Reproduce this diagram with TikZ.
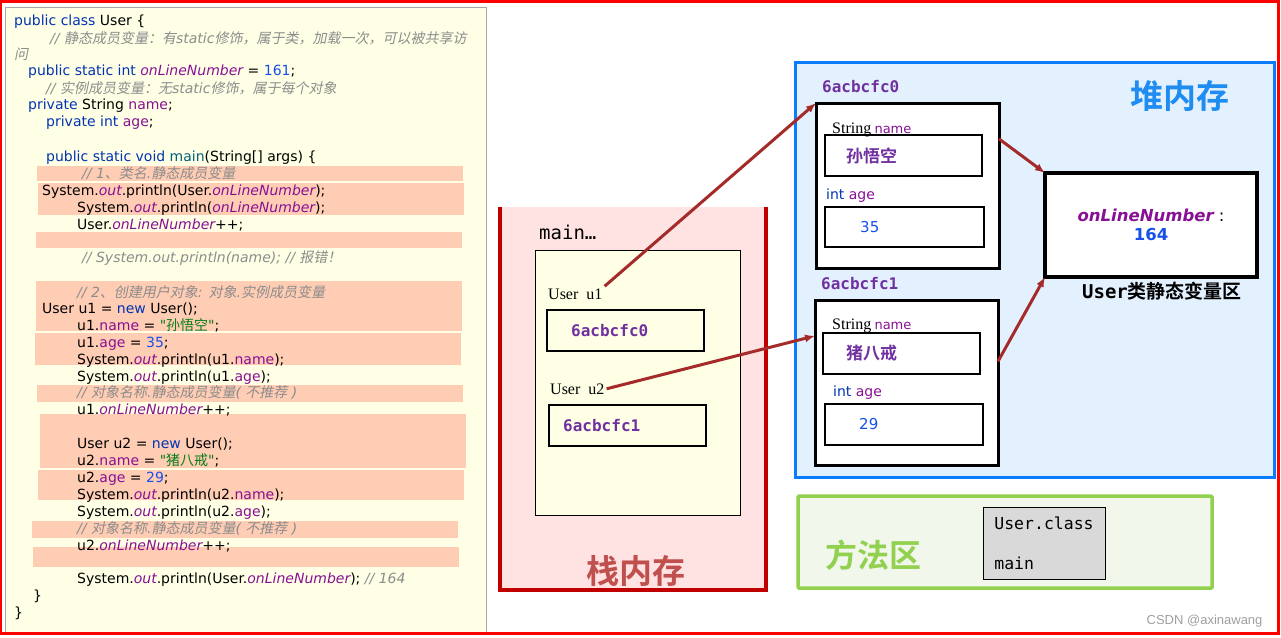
\documentclass[tikz,border=0pt]{standalone}
\usepackage{fontspec}
\setmainfont{DejaVu Sans}
\setmonofont{DejaVu Sans Mono}
\newfontfamily\codefont{DejaVu Sans}
\newfontfamily\cjkfont{Noto Sans CJK SC}[ItalicFont={Noto Sans CJK SC}, ItalicFeatures={FakeSlant=0.2}, BoldFont={Noto Sans CJK SC Bold}]
\newfontfamily\lblserif{Liberation Serif}
\newfontfamily\wmfont{Liberation Sans}
\usetikzlibrary{arrows.meta, positioning}

\definecolor{jkwblue}{HTML}{0033B3}
\definecolor{jfield}{HTML}{871094}
\definecolor{jnumber}{HTML}{1750EB}
\definecolor{jstring}{HTML}{067D17}
\definecolor{jcomment}{HTML}{8C8C8C}
\definecolor{jmethod}{HTML}{00627A}
\definecolor{codebg}{HTML}{FFFFE6}
\definecolor{hlband}{HTML}{FFCCB4}
\definecolor{stackbg}{HTML}{FFE3E3}
\definecolor{stackred}{HTML}{C00000}
\definecolor{stacktxt}{HTML}{C0504D}
\definecolor{heapbg}{HTML}{E3F1FF}
\definecolor{heapblue}{HTML}{0A7CFF}
\definecolor{heaptxt}{HTML}{1E8CF0}
\definecolor{addrpurple}{HTML}{7030A0}
\definecolor{refred}{HTML}{A52A2A}
\definecolor{methodbg}{HTML}{F2F7EC}
\definecolor{methodgreen}{HTML}{92D050}
\definecolor{classgray}{HTML}{D9D9D9}

\newcommand\zh[1]{{\cjkfont #1}}
\newcommand\jkw[1]{\textcolor{jkwblue}{#1}}
\newcommand\jfld[1]{\textcolor{jfield}{#1}}
\newcommand\jsf[1]{\textcolor{jfield}{\itshape #1}}
\newcommand\jnum[1]{\textcolor{jnumber}{#1}}
\newcommand\jstr[1]{\textcolor{jstring}{#1}}
\newcommand\jcmt[1]{\textcolor{jcomment}{\itshape #1}}
\newcommand\jmeth[1]{\textcolor{jmethod}{#1}}
\newcommand\typename[1]{{\lblserif\fontsize{16}{16}\selectfont #1}}

\begin{document}
\begin{tikzpicture}[x=1pt, y=-1pt,
	code/.style={anchor=base west, inner sep=0pt, font=\codefont\fontsize{14}{17}\selectfont},
	area/.style={anchor=north west, outer sep=0pt, inner sep=0pt},
	objbox/.style={draw, fill=white, line width=3pt, anchor=north west, outer sep=0pt,
		minimum width=183pt, minimum height=165pt},
	slot/.style={draw, line width=2pt, anchor=north west, outer sep=0pt,
		minimum width=157pt, minimum height=41pt},
	addr/.style={anchor=west, inner sep=0pt, text=addrpurple, font=\fontsize{16}{16}\ttfamily\bfseries},
	varlbl/.style={anchor=base west, inner sep=0pt},
	reflbl/.style={anchor=base west, inner sep=2pt, font=\lblserif\fontsize{16}{16}\selectfont},
	ref/.style={-{Latex[length=10pt,width=8pt]}, line width=3pt, draw=refred}
	]
	
	\useasboundingbox (0,0) rectangle (1281,637);
	
	% code panel
	\node (codepanel) [area, draw=gray!70, fill=codebg, minimum width=481pt, minimum height=625pt] at (5,7) {};
	\fill[hlband] (37,166) rectangle (463,181);
	\fill[hlband] (38,183) rectangle (464,215);
	\fill[hlband] (36,232) rectangle (462,248);
	\fill[hlband] (36,281) rectangle (462,331);
	\fill[hlband] (35,333) rectangle (461,365);
	\fill[hlband] (37,385) rectangle (463,402);
	\fill[hlband] (40,414) rectangle (466,468);
	\fill[hlband] (38,470) rectangle (464,500);
	\fill[hlband] (32,521) rectangle (458,538);
	\fill[hlband] (33,547) rectangle (459,567);
	
	\node (c1) [code] at (14,25) {\jkw{public class} User \{};
	\node (c2) [code] at (50,43) {\jcmt{// \zh{静态成员变量：有}static\zh{修饰，属于类，加载一次，可以被共享访}}};
	\node (c3) [code] at (14,59) {\jcmt{\zh{问}}};
	\node (c4) [code] at (28,75) {\jkw{public static int} \jsf{onLineNumber} = \jnum{161};};
	\node (c5) [code] at (46,93) {\jcmt{// \zh{实例成员变量：无}static\zh{修饰，属于每个对象}}};
	\node (c6) [code] at (28,109) {\jkw{private} String \jfld{name};};
	\node (c7) [code] at (46,126) {\jkw{private int} \jfld{age};};
	\node (c9) [code] at (46,161) {\jkw{public static void} \jmeth{main}(String[] args) \{};
	\node (c10) [code] at (82,178) {\jcmt{// 1\zh{、类名}.\zh{静态成员变量}}};
	\node (c11) [code] at (42,195) {System.\jsf{out}.println(User.\jsf{onLineNumber});};
	\node (c12) [code] at (77,212) {System.\jsf{out}.println(\jsf{onLineNumber});};
	\node (c13) [code] at (77,229) {User.\jsf{onLineNumber}++;};
	\node (c15) [code] at (82,262) {\jcmt{// System.out.println(name); // \zh{报错！}}};
	\node (c17) [code] at (77,297) {\jcmt{// 2\zh{、创建用户对象}: \zh{对象}.\zh{实例成员变量}}};
	\node (c18) [code] at (42,313) {User u1 = \jkw{new} User();};
	\node (c19) [code] at (77,330) {u1.\jfld{name} = \jstr{"\zh{孙悟空}"};};
	\node (c20) [code] at (77,347) {u1.\jfld{age} = \jnum{35};};
	\node (c21) [code] at (77,364) {System.\jsf{out}.println(u1.\jfld{name});};
	\node (c22) [code] at (77,381) {System.\jsf{out}.println(u1.\jfld{age});};
	\node (c23) [code] at (77,397) {\jcmt{// \zh{对象名称}.\zh{静态成员变量}( \zh{不推荐} )}};
	\node (c24) [code] at (77,414) {u1.\jsf{onLineNumber}++;};
	\node (c26) [code] at (77,448) {User u2 = \jkw{new} User();};
	\node (c27) [code] at (77,465) {u2.\jfld{name} = \jstr{"\zh{猪八戒}"};};
	\node (c28) [code] at (77,482) {u2.\jfld{age} = \jnum{29};};
	\node (c29) [code] at (77,499) {System.\jsf{out}.println(u2.\jfld{name});};
	\node (c30) [code] at (77,516) {System.\jsf{out}.println(u2.\jfld{age});};
	\node (c31) [code] at (77,533) {\jcmt{// \zh{对象名称}.\zh{静态成员变量}( \zh{不推荐} )}};
	\node (c32) [code] at (77,550) {u2.\jsf{onLineNumber}++;};
	\node (c34) [code] at (77,583) {System.\jsf{out}.println(User.\jsf{onLineNumber}); \jcmt{// 164}};
	\node (c35) [code] at (33,600) {\}};
	\node (c36) [code] at (14,617) {\}};
	
	% stack
	\node (stack) [area, fill=stackbg, minimum width=266pt, minimum height=383pt] at (500,207) {};
	\draw[stackred, line width=4pt] (stack.north west) -- (stack.south west) -- (stack.south east) -- (stack.north east);
	\node (mainlbl) [anchor=west, inner sep=0pt, font=\fontsize{19}{19}\ttfamily] at (539,232) {main…};
	\node (frame) [area, draw, fill=codebg, minimum width=205pt, minimum height=265pt] at (535,250) {};
	\node (u1) [reflbl] at (546,299) {User\hspace{8pt}u1};
	\node (u1ref) [slot] at (547,310) {};
	\node (u1val) [addr, right=24pt of u1ref.west] {6acbcfc0};
	\node (u2) [reflbl] at (548,394) {User\hspace{8pt}u2};
	\node (u2ref) [slot] at (549,405) {};
	\node (u2val) [addr, right=14pt of u2ref.west] {6acbcfc1};
	\node (stacktitle) [text=stacktxt, font=\cjkfont\fontsize{33}{33}\selectfont\bfseries] at (636,571) {栈内存};
	
	% heap
	\node (heap) [area, draw=heapblue, line width=3pt, fill=heapbg, minimum width=479pt, minimum height=415pt] at (795,62) {};
	\node (heaptitle) [text=heaptxt, font=\cjkfont\fontsize{33}{33}\selectfont\bfseries] at (1180,96) {堆内存};
	
	\node (addr0) [addr] at (822,87) {6acbcfc0};
	\node (obj0) [objbox] at (816,103) {};
	\node (nm0lbl) [varlbl] at (832,133) {\typename{String} \jfld{\fontsize{13}{13}\selectfont name}};
	\node (nm0) [slot] at (825,135) {};
	\node (nm0val) [inner sep=0pt, text=addrpurple, font=\cjkfont\fontsize{17}{17}\selectfont\bfseries, right=21pt of nm0.west] {孙悟空};
	\node (ag0lbl) [varlbl, font=\fontsize{14}{14}\selectfont] at (826,199) {\jkw{int} \jfld{age}};
	\node (ag0) [slot, minimum width=159pt, minimum height=40pt] at (825,207) {};
	\node (ag0val) [inner sep=0pt, text=jnumber, font=\fontsize{15}{15}\selectfont, right=35pt of ag0.west] {35};
	
	\node (addr1) [addr] at (821,284) {6acbcfc1};
	\node (obj1) [objbox] at (815,300) {};
	\node (nm1lbl) [varlbl] at (832,329) {\typename{String} \jfld{\fontsize{13}{13}\selectfont name}};
	\node (nm1) [slot] at (823,333) {};
	\node (nm1val) [inner sep=0pt, text=addrpurple, font=\cjkfont\fontsize{17}{17}\selectfont\bfseries, right=23pt of nm1.west] {猪八戒};
	\node (ag1lbl) [varlbl, font=\fontsize{14}{14}\selectfont] at (833,396) {\jkw{int} \jfld{age}};
	\node (ag1) [slot, minimum width=158pt] at (825,404) {};
	\node (ag1val) [inner sep=0pt, text=jnumber, font=\fontsize{15}{15}\selectfont, right=34pt of ag1.west] {29};
	
	\node (stat) [draw, line width=4pt, fill=white, anchor=north west, outer sep=0pt, minimum width=212pt, minimum height=104pt,
		align=center, font=\fontsize{16.5}{19}\selectfont] at (1045,173)
		{\textcolor{jfield}{\bfseries\itshape onLineNumber} :\\\textcolor{jnumber}{\bfseries 164}};
	\node (statlbl) [below=2pt of stat, xshift=11pt, font=\fontsize{19}{19}\selectfont\bfseries] {\texttt{User}\zh{类静态变量区}};
	
	\draw[ref] (u1.north east) -- (obj0.north west);
	\draw[ref] (u2.east) -- (obj1.153);
	\draw[ref] (obj0.27) -- (stat.north west);
	\draw[ref] (obj1.13) -- (stat.south west);
	
	% method area
	\node (method) [area, draw=methodgreen, line width=3.5pt, fill=methodbg, rounded corners=1pt, minimum width=414pt, minimum height=92pt] at (798,496) {};
	\node (methodtitle) [text=methodgreen, font=\cjkfont\fontsize{32}{32}\selectfont\bfseries] at (873,555) {方法区};
	\node (classbox) [draw, fill=classgray, anchor=north west, outer sep=0pt, minimum width=122pt, minimum height=72pt,
		align=left, font=\fontsize{16.5}{40}\ttfamily] at (983,507) {User.class\\main};
	
	\node (wm) [anchor=east, text=gray!75, font=\wmfont\fontsize{13}{13}\selectfont] at (1266,621) {CSDN @axinawang};
	
	\draw[red, line width=2.5pt] (0.5,1.5) rectangle (1278.5,633.5);
	
\end{tikzpicture}
\end{document}
